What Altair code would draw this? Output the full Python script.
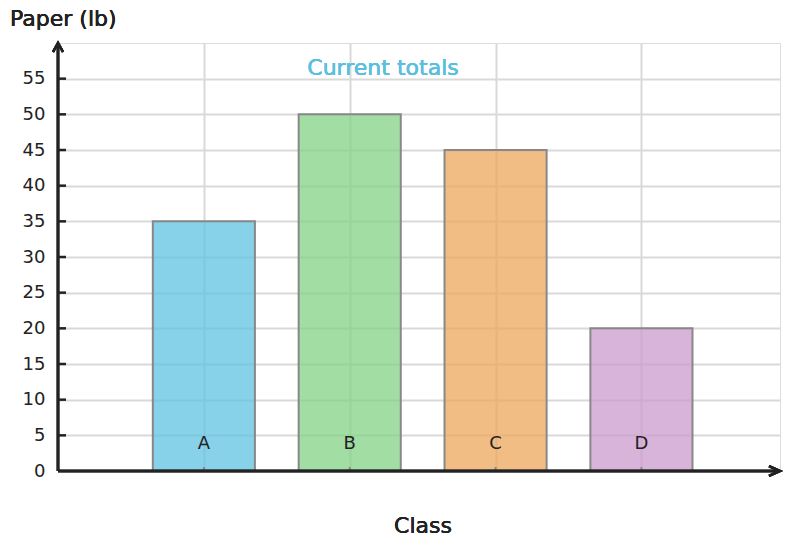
import altair as alt
import pandas as pd

classes = ["A", "B", "C", "D"]
paper_lb = [35, 50, 45, 20]
positions = [1, 2, 3, 4]
colors = ["#5fc2e2", "#83d286", "#eea75c", "#cb9bce"]
y_ticks = [5, 10, 15, 20, 25, 30, 35, 40, 45, 50, 55]
y_labels = [0, 5, 10, 15, 20, 25, 30, 35, 40, 45, 50, 55]
x_grid = [1, 2, 3, 4]

FONT = "DejaVu Sans"
W, H = 722, 428

df = pd.DataFrame({"cls": classes, "val": paper_lb, "pos": positions})

xs = alt.Scale(domain=[0, 4.95], nice=False, zero=False)
ys = alt.Scale(domain=[0, 60], nice=False)

x_axis = alt.Axis(values=x_grid, grid=True, gridColor="#d9d9d9", gridWidth=2,
                  labels=False, ticks=False, domain=False, title=None)
y_axis = alt.Axis(values=y_labels, grid=True, gridColor="#d9d9d9", gridWidth=2,
                  domain=False, ticks=False, labelFontSize=18, labelFont=FONT,
                  labelColor="#222222", labelPadding=13, labelOverlap=False,
                  title=None)

base = alt.Chart(df)

bars = base.transform_calculate(
    x0="datum.pos - 0.35", x1="datum.pos + 0.35"
).mark_bar(stroke="#888888", strokeWidth=2, fillOpacity=0.75, strokeOpacity=1).encode(
    x=alt.X("x0:Q", scale=xs, axis=x_axis),
    x2="x1:Q",
    y=alt.Y("val:Q", scale=ys, axis=y_axis),
    y2=alt.datum(0),
    fill=alt.Fill("cls:N", scale=alt.Scale(domain=classes, range=colors), legend=None),
)

bar_labels = base.mark_text(font=FONT, fontSize=18, color="#222222", baseline="alphabetic").encode(
    x=alt.X("pos:Q", scale=xs, axis=x_axis),
    y=alt.value(406),
    text="cls:N",
)

cat_ticks = base.mark_rule(color="#888888", strokeWidth=2).encode(
    x=alt.X("pos:Q", scale=xs, axis=x_axis),
    y=alt.value(H),
    y2=alt.value(H - 4),
)

tick_df = pd.DataFrame({"t": y_ticks})
y_tick_marks = alt.Chart(tick_df).mark_rule(color="#222222", strokeWidth=2.5).encode(
    y=alt.Y("t:Q", scale=ys, axis=y_axis),
    x=alt.value(0),
    x2=alt.value(8),
)

x_axis_line = alt.Chart(df).mark_rule(color="#222222", strokeWidth=2.5).encode(
    x=alt.value(0), x2=alt.value(W), y=alt.value(H)
)
y_axis_line = alt.Chart(df).mark_rule(color="#222222", strokeWidth=2.5).encode(
    x=alt.value(0), y=alt.value(0), y2=alt.value(H)
)

up_arrow = alt.Chart(df).mark_point(
    shape="M-0.5,0.9L0,0L0.5,0.9", size=400, filled=False, color="#222222",
    strokeWidth=2.5, opacity=1
).encode(x=alt.value(0), y=alt.value(0))

right_arrow = alt.Chart(df).mark_point(
    shape="M-1,-0.45L0,0L-1,0.45", size=484, filled=False, color="#222222",
    strokeWidth=2.5, opacity=1
).encode(x=alt.value(W), y=alt.value(H))

title_text = alt.Chart(df).mark_text(
    text="Current totals", font=FONT, fontSize=22, color="#5bc0de", align="center",
    baseline="alphabetic"
).encode(x=alt.value(325), y=alt.value(32))

y_title = alt.Chart(df).mark_text(
    text="Paper (lb)", font=FONT, fontSize=22, color="#222222", align="left",
    baseline="alphabetic"
).encode(x=alt.value(-48), y=alt.value(-17))

x_title = alt.Chart(df).mark_text(
    text="Class", font=FONT, fontSize=22, color="#222222", align="center",
    baseline="alphabetic"
).encode(x=alt.value(365), y=alt.value(490))

chart = alt.layer(
    bars, cat_ticks, bar_labels, x_axis_line, y_axis_line, y_tick_marks,
    up_arrow, right_arrow, title_text, y_title, x_title
).properties(
    width=W, height=H,
    autosize=alt.AutoSizeParams(type="none"),
    padding={"left": 50, "top": 35, "right": 3, "bottom": 62},
).configure_view(stroke="#d9d9d9", strokeWidth=2).configure(background="white")

chart.save("out.html", embed_options={"renderer": "svg", "actions": False})
